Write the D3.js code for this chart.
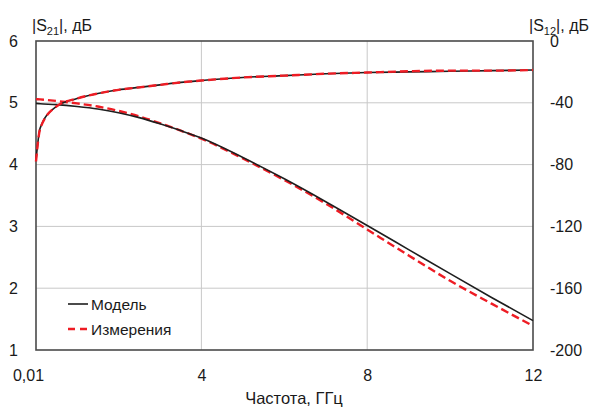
<!DOCTYPE html>
<html>
<head>
<meta charset="utf-8">
<script src="https://cdn.jsdelivr.net/npm/d3@7"></script>
<style>
    body { margin: 0; background: #fff; }
    text { font-family: "Liberation Sans", Arial, sans-serif; fill: #1a1a1a; }
</style>
</head>
<body>
<div id="field"></div>
<script>

// frequency points, GHz
const freq = [0.01, 0.11, 0.5, 1, 1.5, 2, 2.5, 3, 3.5, 4, 5, 6, 7, 8, 9, 10, 11, 12];

// |S21|, dB (left axis)
const s21Model = [4.07, 4.59, 4.94, 5.07, 5.15, 5.21, 5.25, 5.29, 5.33, 5.36, 5.41, 5.44, 5.47, 5.49, 5.50, 5.51, 5.52, 5.53];
const s21Meas  = [4.05, 4.58, 4.94, 5.07, 5.15, 5.21, 5.25, 5.29, 5.33, 5.36, 5.41, 5.44, 5.47, 5.49, 5.51, 5.52, 5.52, 5.53];

// |S12|, dB (right axis)
const s12Model = [-40.4, -40.6, -41.2, -42.4, -44.0, -46.4, -49.6, -53.6, -58.0, -62.8, -75.4, -89.2, -104.0, -119.4, -135.0, -150.6, -166.0, -181.0];
const s12Meas  = [-37.6, -37.8, -38.8, -40.4, -42.4, -45.2, -48.8, -53.2, -58.0, -63.2, -76.0, -90.0, -105.2, -122.0, -138.8, -155.2, -170.0, -184.4];

const xTicks = [0.01, 4, 8, 12];
const yLeftTicks = [1, 2, 3, 4, 5, 6];
const yRightTicks = [0, -40, -80, -120, -160, -200];
const legendLabels = ["Модель", "Измерения"];

const width = 597;
const height = 407;
const plotLeft = 36, plotRight = 533, plotTop = 41, plotBottom = 350;

const svg = d3.select("#field")
    .append("svg")
    .attr("width", width)
    .attr("height", height);

// scales

const x = d3.scaleLinear()
    .domain([0.01, 12])
    .range([plotLeft, plotRight]);

const yLeft = d3.scaleLinear()
    .domain([1, 6])
    .range([plotBottom, plotTop]);

const yRight = d3.scaleLinear()
    .domain([-200, 0])
    .range([plotBottom, plotTop]);

// grid

svg.append("g").selectAll("line")
    .data(yLeftTicks.slice(1, -1))
    .enter().append("line")
    .attr("x1", plotLeft).attr("x2", plotRight)
    .attr("y1", function(d) { return yLeft(d); })
    .attr("y2", function(d) { return yLeft(d); })
    .attr("stroke", "#c8c8c8").attr("stroke-width", 1);

svg.append("g").selectAll("line")
    .data(xTicks.slice(1, -1))
    .enter().append("line")
    .attr("y1", plotTop).attr("y2", plotBottom)
    .attr("x1", function(d) { return x(d); })
    .attr("x2", function(d) { return x(d); })
    .attr("stroke", "#c8c8c8").attr("stroke-width", 1);

// axes (labels only, frame drawn separately)

const xAxis = svg.append("g")
    .attr("transform", "translate(0," + plotBottom + ")")
    .call(d3.axisBottom(x).tickValues(xTicks).tickSize(0).tickPadding(20)
        .tickFormat(function(d) { return d === 0.01 ? "0,01" : String(d); }));

xAxis.selectAll("text")
    .attr("x", function(d) { return d === 0.01 ? -8 : 0; });

svg.append("g")
    .attr("transform", "translate(" + plotLeft + ",0)")
    .call(d3.axisLeft(yLeft).tickValues(yLeftTicks).tickSize(0).tickPadding(18)
        .tickFormat(function(d) { return String(d); }));

svg.append("g")
    .attr("transform", "translate(" + plotRight + ",0)")
    .call(d3.axisRight(yRight).tickValues(yRightTicks).tickSize(0).tickPadding(17)
        .tickFormat(function(d) { return String(d); }));

svg.selectAll(".domain").remove();
svg.selectAll(".tick text")
    .style("font-size", "16px")
    .attr("fill", "#1a1a1a");

// frame

svg.append("rect")
    .attr("x", plotLeft).attr("y", plotTop)
    .attr("width", plotRight - plotLeft)
    .attr("height", plotBottom - plotTop)
    .attr("fill", "none")
    .attr("stroke", "#4a4a4a")
    .attr("stroke-width", 1.6);

// curves

const lineLeft = d3.line()
    .x(function(d, i) { return x(freq[i]); })
    .y(function(d) { return yLeft(d); })
    .curve(d3.curveMonotoneX);

const lineRight = d3.line()
    .x(function(d, i) { return x(freq[i]); })
    .y(function(d) { return yRight(d); })
    .curve(d3.curveMonotoneX);

function drawModel(path) {
    svg.append("path").attr("d", path)
        .attr("fill", "none").attr("stroke", "#1e1e1e").attr("stroke-width", 1.6);
}

function drawMeas(path) {
    svg.append("path").attr("d", path)
        .attr("fill", "none").attr("stroke", "#ee1c24").attr("stroke-width", 2.4)
        .attr("stroke-dasharray", "8,4");
}

drawMeas(lineRight(s12Meas));
drawModel(lineRight(s12Model));
drawModel(lineLeft(s21Model));
drawMeas(lineLeft(s21Meas));

// legend

const legend = svg.append("g");

legend.append("line")
    .attr("x1", 68).attr("x2", 88).attr("y1", 304).attr("y2", 304)
    .attr("stroke", "#1e1e1e").attr("stroke-width", 1.6);

legend.append("line")
    .attr("x1", 68).attr("x2", 88).attr("y1", 329).attr("y2", 329)
    .attr("stroke", "#ee1c24").attr("stroke-width", 2.4)
    .attr("stroke-dasharray", "7,5");

legend.selectAll("text")
    .data(legendLabels)
    .enter().append("text")
    .attr("x", 91)
    .attr("y", function(d, i) { return 309.5 + i * 25; })
    .style("font-size", "15.5px")
    .text(function(d) { return d; });

// axis titles

function axisTitle(xPos, sub) {
    const t = svg.append("text")
        .attr("x", xPos).attr("y", 31)
        .style("font-size", "16px");
    t.append("tspan").text("|S");
    t.append("tspan").attr("dy", 4).style("font-size", "11px").text(sub);
    t.append("tspan").attr("dy", -4).text("|, дБ");
}

axisTitle(32, "21");
axisTitle(529, "12");

svg.append("text")
    .attr("x", 294).attr("y", 404)
    .attr("text-anchor", "middle")
    .style("font-size", "16.5px")
    .text("Частота, ГГц");

</script>
</body>
</html>
